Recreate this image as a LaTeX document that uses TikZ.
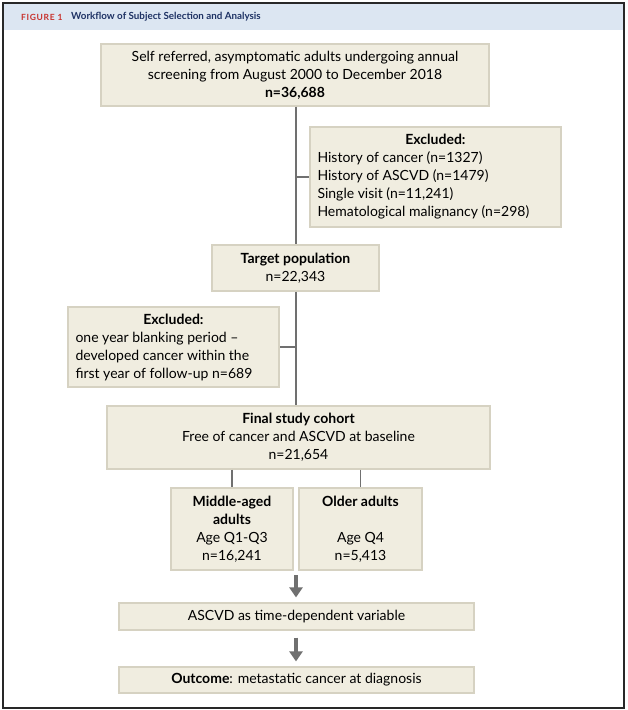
\documentclass[tikz,border=0pt]{standalone}
\usepackage{fontspec}
\setmainfont{Lato}
\usetikzlibrary{arrows.meta}
\definecolor{boxfill}{RGB}{240,237,224}
\definecolor{boxedge}{RGB}{214,210,194}
\definecolor{linegray}{RGB}{112,112,112}
\definecolor{titlebg}{RGB}{220,230,242}
\definecolor{titlered}{RGB}{200,50,45}
\definecolor{titlenavy}{RGB}{30,50,100}
\definecolor{framecol}{RGB}{40,40,40}
\tikzset{
  fbox/.style={fill=boxfill,draw=boxedge,line width=1.2pt,inner sep=0pt,align=center,
    font=\fontsize{14}{18}\selectfont},
  conn/.style={draw=linegray,line width=1.2pt},
  bigarrow/.style={draw=linegray,line width=4pt,-{Triangle[width=13pt,length=10pt]}},
}
\begin{document}
\begin{tikzpicture}[x=1pt,y=-1pt]
\useasboundingbox (0,0) rectangle (628,710);
\fill[white] (0,0) rectangle (628,710);
\fill[titlebg] (3,3) rectangle (624,30);
\draw[framecol,line width=1.6pt] (3,3) rectangle (624,708);
\node[anchor=west,inner sep=0pt,font=\fontsize{8.5}{10}\selectfont\bfseries\addfontfeature{LetterSpace=8},text=titlered] (figlabel) at (21,17) {FIGURE 1};
\node[anchor=west,inner sep=0pt,font=\fontsize{9.8}{11}\selectfont\bfseries,text=titlenavy] (figtitle) at (71,17) {Workflow of Subject Selection and Analysis};

\node[fbox,minimum width=388pt,minimum height=62pt] (top) at (295,75)
  {Self referred, asymptomatic adults undergoing annual\\screening from August 2000 to December 2018\\\textbf{n=36,688}};
\node[fbox,minimum width=251pt,minimum height=100pt,align=left] (exc1) at (435.5,177)
  {\makebox[236pt][c]{\textbf{Excluded:}}\\History of cancer (n=1327)\\History of ASCVD (n=1479)\\Single visit (n=11,241)\\Hematological malignancy (n=298)};
\node[fbox,minimum width=167pt,minimum height=46pt] (target) at (295.5,268)
  {\textbf{Target population}\\n=22,343};
\node[fbox,minimum width=211pt,minimum height=80pt,align=left] (exc2) at (173.5,347)
  {\makebox[196pt][c]{\textbf{Excluded:}}\\one year blanking period --\\developed cancer within the\\first year of follow-up n=689};
\node[fbox,minimum width=383pt,minimum height=63pt] (final) at (298.5,437.5)
  {\textbf{Final study cohort}\\Free of cancer and ASCVD at baseline\\n=21,654};
\node[fbox,minimum width=122pt,minimum height=82pt] (mid) at (232,529)
  {\textbf{Middle-aged}\\\textbf{adults}\\Age Q1-Q3\\n=16,241};
\node[fbox,minimum width=123pt,minimum height=82pt] (old) at (360.5,529)
  {\textbf{Older adults}\\\strut\\Age Q4\\n=5,413};
\node[fbox,minimum width=355pt,minimum height=27pt] (ascvd) at (296.5,616.5)
  {ASCVD as time-dependent variable};
\node[fbox,minimum width=355pt,minimum height=26pt] (outcome) at (296.5,680)
  {\textbf{Outcome}: metastatic cancer at diagnosis};

\coordinate (b1) at (296,177);
\coordinate (b2) at (296,347);
\coordinate (groups) at (296,570);
\draw[conn] (top.south -| b1) -- (target.north -| b1);
\draw[conn] (b1) -- (exc1.west);
\draw[conn] (target.south -| b2) -- (final.north -| b2);
\draw[conn] (b2) -- (exc2.east);
\draw[conn] (final.south -| mid.north) -- (mid.north);
\draw[conn] (final.south -| old.north) -- (old.north);
\draw[bigarrow,shorten <=5pt,shorten >=5pt] (groups) -- (ascvd.north -| groups);
\draw[bigarrow,shorten <=7pt,shorten >=5pt] (ascvd.south -| groups) -- (outcome.north -| groups);
\end{tikzpicture}
\end{document}
